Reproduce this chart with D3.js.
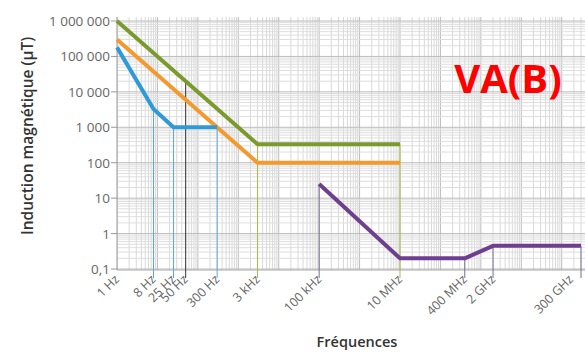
<!DOCTYPE html>
<meta charset="utf-8">
<style>
  body { margin: 0; background: #fff; }
  text { font-family: "Open Sans", sans-serif; }
</style>
<body>
<svg width="585" height="352"></svg>
</body>
<script src="https://d3js.org/d3.v7.min.js"></script>
<script>

// ticks on the frequency axis
var freqTicks = [1, 8, 25, 50, 300, 3e3, 1e5, 1e7, 4e8, 2e9, 3e11];
var freqLabels = ["1 Hz", "8 Hz", "25 Hz", "50 Hz", "300 Hz", "3 kHz", "100 kHz", "10 MHz", "400 MHz", "2 GHz", "300 GHz"];
var yTicks = [1e6, 1e5, 1e4, 1e3, 100, 10, 1, 0.1];
var yLabels = ["1 000 000", "100 000", "10 000", "1 000", "100", "10", "1", "0,1"];

// limit curves (frequency, µT)
var green  = [[1, 1e6], [3e3, 333], [1e7, 333]];
var orange = [[1, 3e5], [3e3, 100], [1e7, 100]];
var blue   = [[1, 1.8e5], [8, 3300], [25, 1000], [300, 1000]];
var purple = [[1e5, 25], [1e7, 0.2], [4e8, 0.2], [2e9, 0.45], [3e11, 0.45]];

// drop lines: frequency, value reached, colour
var drops = [
  [8, 3300, "#5aa8dc"],
  [25, 1000, "#5aa8dc"],
  [50, 2e4, "#333"],
  [300, 1000, "#5aa8dc"],
  [3e3, 333, "#a6b84a"],
  [1e5, 25, "#7a6a92"],
  [1e7, 333, "#a6b84a"],
  [4e8, 0.2, "#7a6a92"],
  [2e9, 0.45, "#7a6a92"],
  [3e11, 0.45, "#7a6a92"]
];

var svg = d3.select("svg");
var pLeft = 117, pRight = 585, pTop = 17, pBottom = 270;

var x = d3.scaleLog().domain([1, 3e11]).range([pLeft, 581]);
var y = d3.scaleLog().domain([0.1, 1e6]).range([269, 21]);

svg.append("clipPath").attr("id", "plot")
  .append("rect").attr("x", pLeft).attr("y", pTop)
  .attr("width", pRight - pLeft).attr("height", pBottom - pTop);

var grid = svg.append("g").attr("clip-path", "url(#plot)");

// log grid, vertical
var vx = [];
for (var n = 0; n <= 11; n++)
  for (var k = 1; k <= 9; k++) vx.push(k * Math.pow(10, n));
grid.selectAll(".vg").data(vx).enter().append("line")
  .attr("x1", d => x(d)).attr("x2", d => x(d))
  .attr("y1", pTop).attr("y2", pBottom)
  .attr("stroke", (d, i) => i % 9 === 0 ? "#bcbcbc" : "#d9d9d9")
  .attr("stroke-width", 1);

// log grid, horizontal
var hy = [];
for (var m = -1; m <= 6; m++)
  for (var j = 1; j <= 9; j++) hy.push(j * Math.pow(10, m));
grid.selectAll(".hg").data(hy).enter().append("line")
  .attr("x1", pLeft).attr("x2", pRight)
  .attr("y1", d => y(d)).attr("y2", d => y(d))
  .attr("stroke", (d, i) => i % 9 === 0 ? "#bcbcbc" : "#dedede")
  .attr("stroke-width", 1);

// axes lines
svg.append("line").attr("x1", pLeft).attr("x2", pLeft).attr("y1", pTop).attr("y2", pBottom)
  .attr("stroke", "#999");
svg.append("line").attr("x1", pLeft).attr("x2", pRight).attr("y1", pBottom).attr("y2", pBottom)
  .attr("stroke", "#aaa");

// y ticks
svg.selectAll(".yt").data(yTicks).enter().append("line")
  .attr("x1", pLeft - 6).attr("x2", pLeft)
  .attr("y1", d => y(d)).attr("y2", d => y(d))
  .attr("stroke", "#999");
svg.selectAll(".yl").data(yTicks).enter().append("text")
  .attr("x", 110).attr("y", d => y(d) + 5)
  .attr("text-anchor", "end")
  .attr("font-size", 13.5)
  .attr("fill", "#666")
  .text((d, i) => yLabels[i]);

// drop lines
svg.selectAll(".drop").data(drops).enter().append("line")
  .attr("x1", d => x(d[0])).attr("x2", d => x(d[0]))
  .attr("y1", d => y(d[1])).attr("y2", pBottom + 8)
  .attr("stroke", d => d[2])
  .attr("stroke-width", 1);

// curves
var line = d3.line().x(d => x(d[0])).y(d => y(d[1]));
[[green, "#7a9a2c"], [orange, "#f29a2e"], [blue, "#2f9ad8"], [purple, "#6f3f8f"]].forEach(function(s) {
  svg.append("path").datum(s[0])
    .attr("d", line)
    .attr("fill", "none")
    .attr("stroke", s[1])
    .attr("stroke-width", 4)
    .attr("stroke-linejoin", "round");
});

// x labels (last one pulled in so it stays on the page)
svg.selectAll(".xl").data(freqTicks).enter().append("text")
  .attr("transform", (d, i) => "translate(" + (x(d) + (i === freqTicks.length - 1 ? -7 : 3)) + "," + 280 + ") rotate(-45)")
  .attr("text-anchor", "end")
  .attr("font-size", 12.5)
  .attr("fill", "#666")
  .text((d, i) => freqLabels[i]);

// axis titles
svg.append("text")
  .attr("transform", "translate(33,136) rotate(-90)")
  .attr("text-anchor", "middle")
  .attr("font-size", 15.5)
  .attr("font-weight", 600)
  .attr("fill", "#333")
  .text("Induction magnétique (µT)");

svg.append("text")
  .attr("x", 357).attr("y", 347)
  .attr("text-anchor", "middle")
  .attr("font-size", 14.5)
  .attr("font-weight", 600)
  .attr("fill", "#333")
  .text("Fréquences");

svg.append("text")
  .attr("x", 508).attr("y", 93)
  .attr("text-anchor", "middle")
  .attr("font-family", "Liberation Sans, sans-serif")
  .attr("font-size", 40)
  .attr("font-weight", "bold")
  .attr("fill", "#ff0000")
  .text("VA(B)");

</script>
